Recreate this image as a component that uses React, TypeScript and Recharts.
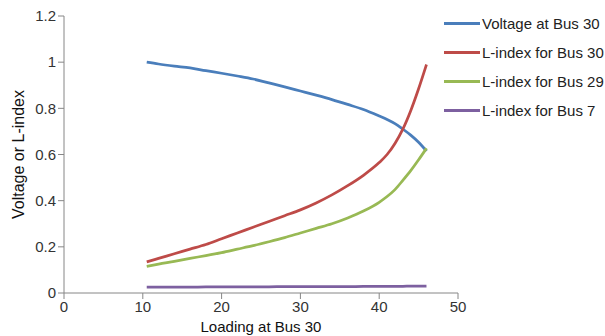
import React from "react";
import { LineChart, Line, XAxis, YAxis, Legend } from "recharts";

const loading = [10.5, 12, 14, 16, 18, 20, 22, 24, 26, 28, 30, 32, 34, 36, 38, 40, 41, 42, 43, 44, 45, 46];
const voltageBus30 = [1.0, 0.992, 0.983, 0.975, 0.963, 0.952, 0.94, 0.927, 0.91, 0.893, 0.875, 0.857, 0.838, 0.817, 0.795, 0.767, 0.752, 0.734, 0.71, 0.684, 0.653, 0.615];
const lIndexBus30 = [0.135, 0.15, 0.17, 0.19, 0.21, 0.235, 0.26, 0.285, 0.31, 0.335, 0.36, 0.39, 0.425, 0.465, 0.51, 0.565, 0.6, 0.648, 0.71, 0.79, 0.885, 0.99];
const lIndexBus29 = [0.115, 0.125, 0.137, 0.15, 0.162, 0.175, 0.19, 0.205, 0.222, 0.24, 0.26, 0.28, 0.3, 0.325, 0.355, 0.393, 0.418, 0.448, 0.488, 0.53, 0.577, 0.627];
const lIndexBus7 = [0.025, 0.0252, 0.0255, 0.0258, 0.026, 0.0262, 0.0265, 0.0268, 0.027, 0.0272, 0.0274, 0.0276, 0.0278, 0.028, 0.0283, 0.0286, 0.0288, 0.029, 0.0292, 0.0294, 0.0296, 0.03];
const xTicks = [0, 10, 20, 30, 40, 50];
const yTicks = [0, 0.2, 0.4, 0.6, 0.8, 1, 1.2];

const seriesNames = ["Voltage at Bus 30", "L-index for Bus 30", "L-index for Bus 29", "L-index for Bus 7"];
const seriesKeys = ["v30", "l30", "l29", "l7"];
const colors = ["#4A7EBB", "#BE4B48", "#98B954", "#7D60A0"];

const data = loading.map((x, i) => ({
  x,
  v30: voltageBus30[i],
  l30: lIndexBus30[i],
  l29: lIndexBus29[i],
  l7: lIndexBus7[i],
}));

const FONT = "'Liberation Sans', Arial, sans-serif";

const LegendContent = () => (
  <div style={{ position: "relative", width: 147, height: 130 }}>
    {seriesNames.map((name, i) => (
      <div
        key={name}
        style={{
          position: "absolute",
          left: -14,
          top: 23 + i * 29 - 9,
          height: 18,
          display: "flex",
          alignItems: "center",
          whiteSpace: "nowrap",
        }}
      >
        <div style={{ width: 36, height: 3, background: colors[i], marginRight: 2 }} />
        <span style={{ fontFamily: FONT, fontSize: 15, color: "#222" }}>{name}</span>
      </div>
    ))}
  </div>
);

export default function App() {
  return (
    <div style={{ position: "absolute", left: 0, top: 0, width: 605, height: 336, background: "#fff" }}>
      <LineChart width={605} height={336} data={data} margin={{ top: 16, right: 0, left: 0, bottom: 0 }}>
        <XAxis
          dataKey="x"
          type="number"
          domain={[0, 50]}
          ticks={xTicks}
          stroke="#868686"
          tickSize={6}
          tick={{ fill: "#333", fontSize: 15, fontFamily: FONT }}
          height={43}
          label={{ value: "Loading at Bus 30", position: "insideBottom", offset: 4, fill: "#111", fontSize: 15, fontFamily: FONT }}
        />
        <YAxis
          type="number"
          domain={[0, 1.2]}
          ticks={yTicks}
          stroke="#868686"
          tickSize={6}
          width={64}
          tickFormatter={(v: number) => String(Math.round(v * 10) / 10)}
          tick={{ fill: "#333", fontSize: 15, fontFamily: FONT }}
          label={{ value: "Voltage or L-index", angle: -90, position: "insideLeft", offset: 18, fill: "#111", fontSize: 16, fontFamily: FONT, style: { textAnchor: "middle" } }}
        />
        <Legend
          layout="vertical"
          align="right"
          verticalAlign="top"
          wrapperStyle={{ top: 0, right: 0 }}
          content={() => <LegendContent />}
        />
        {seriesKeys.map((k, i) => (
          <Line
            key={k}
            dataKey={k}
            name={seriesNames[i]}
            stroke={colors[i]}
            strokeWidth={2.75}
            dot={false}
            type="monotone"
            isAnimationActive={false}
          />
        ))}
      </LineChart>
    </div>
  );
}
